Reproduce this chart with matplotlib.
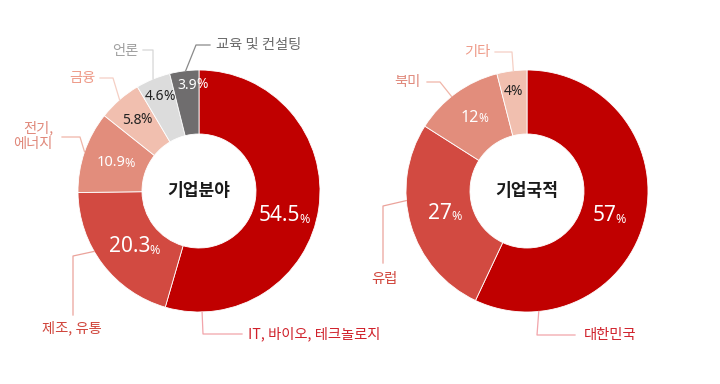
import numpy as np
import matplotlib
matplotlib.use("Agg")
import matplotlib.pyplot as plt

plt.rcParams['font.family'] = ['Noto Sans CJK KR', 'DejaVu Sans']

# data
field_labels = ['IT, 바이오, 테크놀로지', '제조, 유통', '전기,\n에너지', '금융', '언론', '교육 및 컨설팅']
field_values = [54.5, 20.3, 10.9, 5.8, 4.6, 3.9]
field_pct = ['54.5', '20.3', '10.9', '5.8', '4.6', '3.9']

nation_labels = ['대한민국', '유럽', '북미', '기타']
nation_values = [57, 27, 12, 4]
nation_pct = ['57', '27', '12', '4']

# style
field_colors = ['#C00000', '#D24A41', '#E28D7C', '#F1BFAF', '#DCDCDC', '#6F6D6E']
field_text = ['#D0202A', '#D0453B', '#E0887A', '#EE9A88', '#A0A0A0', '#6A6A6A']
field_lines = ['#F2A4AA', '#EBA39B', '#F0B5A8', '#F5CFC4', '#D6D6D6', '#8A8A8A']
field_pct_col = ['white', 'white', 'white', '#222222', '#222222', 'white']

nation_colors = ['#C00000', '#D24A41', '#E28D7C', '#F1BFAF']
nation_text = ['#D0202A', '#D0453B', '#E0887A', '#EE9A88']
nation_lines = ['#F2A4AA', '#EBA39B', '#F0B5A8', '#F5CFC4']
nation_pct_col = ['white', 'white', 'white', '#222222']

H = 384
LABEL_FS = 10.3
fig = plt.figure(figsize=(7.2, 3.84), dpi=100)
ax = fig.add_axes([0, 0, 1, 1])
ax.set_xlim(0, 720)
ax.set_ylim(0, H)
ax.set_aspect('equal')
ax.axis('off')

R_OUT, R_IN = 121, 57


def wedge_point(center, values, i, frac, r):
    cum = np.concatenate([[0], np.cumsum(values)]) / np.sum(values) * 360
    ang = cum[i] + frac * (cum[i + 1] - cum[i])  # clockwise from 12 o'clock
    t = np.deg2rad(90 - ang)
    return center[0] + r * np.cos(t), center[1] + r * np.sin(t)


def pct_label(x, y, num, big, small, color):
    fp = small * 100 / 72 * 0.8
    t = ax.text(x - fp / 2, y, num, ha='center', va='center', fontsize=big,
                color=color, family=['Noto Sans', 'DejaVu Sans'])
    ax.annotate('%', xy=(1, 0.02), xycoords=t, xytext=(-0.6, 0),
                textcoords='offset points', ha='left', va='bottom',
                fontsize=small, color=color, family=['Noto Sans', 'DejaVu Sans'])


def donut(center, values, colors, title):
    ax.pie(values, colors=colors, center=center, radius=R_OUT, startangle=90,
           counterclock=False, frame=True,
           wedgeprops=dict(width=R_OUT - R_IN, edgecolor='white', linewidth=0.6))
    ax.text(center[0], center[1], title, ha='center', va='center',
            fontsize=12.3, fontweight='bold', color='#1a1a1a')


# left donut: 기업분야
cL = (199, H - 191)
donut(cL, field_values, field_colors, '기업분야')

# leader layout: (frac in wedge, elbow px, end px, text px, ha)
field_leaders = [
    (0.91, (203, 334), (242, 334), (248, 334), 'left'),
    (0.60, (73, 256), (73, 315), (72, 328), 'center'),
    (0.50, (80, 137), (62, 137), (53, 136), 'right'),
    (0.50, (113, 78), (100, 78), (95, 78), 'right'),
    (0.50, (153, 50), (143, 50), (138, 51), 'right'),
    (0.55, (196, 45), (210, 45), (216, 45), 'left'),
]
for i, (fr, el, en, tp, ha) in enumerate(field_leaders):
    sx, sy = wedge_point(cL, field_values, i, fr, R_OUT)
    ax.plot([sx, el[0], en[0]], [sy, H - el[1], H - en[1]], color=field_lines[i], lw=0.9)
    ax.text(tp[0], H - tp[1], field_labels[i], ha=ha, va='center', fontsize=LABEL_FS,
            color=field_text[i], linespacing=1.2, multialignment='right')

# percent layout: (frac, radius, big, small)
field_pct_pos = [(0.54, 89, 15, 9), (0.45, 85, 15, 9), (0.5, 88, 10.5, 9),
                 (0.5, 94, 10, 10), (0.5, 102, 10, 10), (0.77, 106, 10, 10)]
for i, (fr, r, b, s) in enumerate(field_pct_pos):
    x, y = wedge_point(cL, field_values, i, fr, r)
    pct_label(x, y, field_pct[i], b, s, field_pct_col[i])

# right donut: 기업국적
cR = (527, H - 191)
donut(cR, nation_values, nation_colors, '기업국적')

nation_leaders = [
    (0.85, (537, 335), (575, 335), (584, 335), 'left'),
    (0.62, (383, 206), (383, 263), (384, 279), 'center'),
    (0.44, (440, 82), (427, 82), (421, 82), 'right'),
    (0.55, (512, 52), (495, 52), (490, 52), 'right'),
]
for i, (fr, el, en, tp, ha) in enumerate(nation_leaders):
    sx, sy = wedge_point(cR, nation_values, i, fr, R_OUT)
    ax.plot([sx, el[0], en[0]], [sy, H - el[1], H - en[1]], color=nation_lines[i], lw=0.9)
    ax.text(tp[0], H - tp[1], nation_labels[i], ha=ha, va='center', fontsize=LABEL_FS,
            color=nation_text[i])

nation_pct_pos = [(0.52, 86, 15, 9), (0.51, 85, 15, 9), (0.51, 90, 11.5, 8.5),
                  (0.44, 100, 10, 10)]
for i, (fr, r, b, s) in enumerate(nation_pct_pos):
    x, y = wedge_point(cR, nation_values, i, fr, r)
    pct_label(x, y, nation_pct[i], b, s, nation_pct_col[i])

ax.set_xlim(0, 720)
ax.set_ylim(0, H)
ax.axis('off')
fig.savefig('out.png', dpi=100)
